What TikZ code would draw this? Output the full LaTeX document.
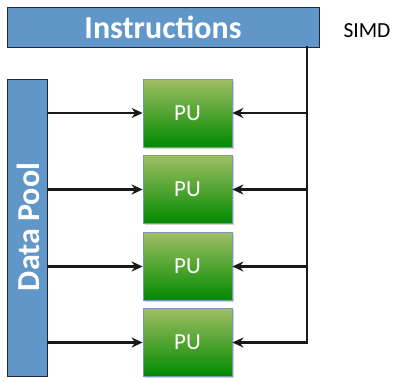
\documentclass[tikz,border=0pt]{standalone}
\usepackage{fontspec}
\setmainfont{Carlito}
\usetikzlibrary{arrows.meta,shadows}
\definecolor{boxblue}{RGB}{96,150,200}
\definecolor{boxedge}{RGB}{30,40,55}
\definecolor{putop}{RGB}{160,190,100}
\definecolor{pubot}{RGB}{0,138,0}
\definecolor{puedge}{RGB}{120,150,185}
\tikzset{
  bluebox/.style={draw=boxedge, line width=0.9pt, fill=boxblue, inner sep=0pt, text=white},
  bigtext/.style={font=\fontsize{32}{32}\selectfont\bfseries},
  pubox/.style={draw=puedge, line width=0.8pt, top color=putop, bottom color=pubot, minimum width=89pt, minimum height=68pt, inner sep=0pt, text=white, font=\fontsize{23}{23}\selectfont, drop shadow={shadow xshift=1.5pt, shadow yshift=-1.5pt, opacity=0.35}},
  wire/.style={line width=2.2pt, draw=black!90},
  arr/.style={wire, -{Stealth[length=11pt,width=10pt]}},
}
\begin{document}
\begin{tikzpicture}[x=1pt,y=-1pt]
\useasboundingbox (0,0) rectangle (401,381);
\node[bluebox, bigtext, minimum width=312pt, minimum height=40pt] (instr) at (163,27) {Instructions};
\node[bluebox, minimum width=40pt, minimum height=297pt] (pool) at (27,227.5) {};
\node[text=white, bigtext, rotate=90] (pooltext) at (28,227) {Data Pool};
\node[font=\fontsize{21.5}{21.5}\selectfont, anchor=west] (simd) at (340,31) {SIMD};
\node[pubox] (pu1) at (187.5,113) {PU};
\node[pubox] (pu2) at (187.5,189.5) {PU};
\node[pubox] (pu3) at (187.5,266.5) {PU};
\node[pubox] (pu4) at (187.5,342.5) {PU};
\coordinate (bustop) at (307,47);
\coordinate (busbot) at (307,343);
\draw[wire, line cap=rect] (bustop) -- (busbot);
\foreach \i in {1,2,3,4}{
  \draw[arr] (pool.east |- pu\i.west) -- (pu\i.west);
  \draw[arr] (bustop |- pu\i.east) -- (pu\i.east);
}
\end{tikzpicture}
\end{document}
